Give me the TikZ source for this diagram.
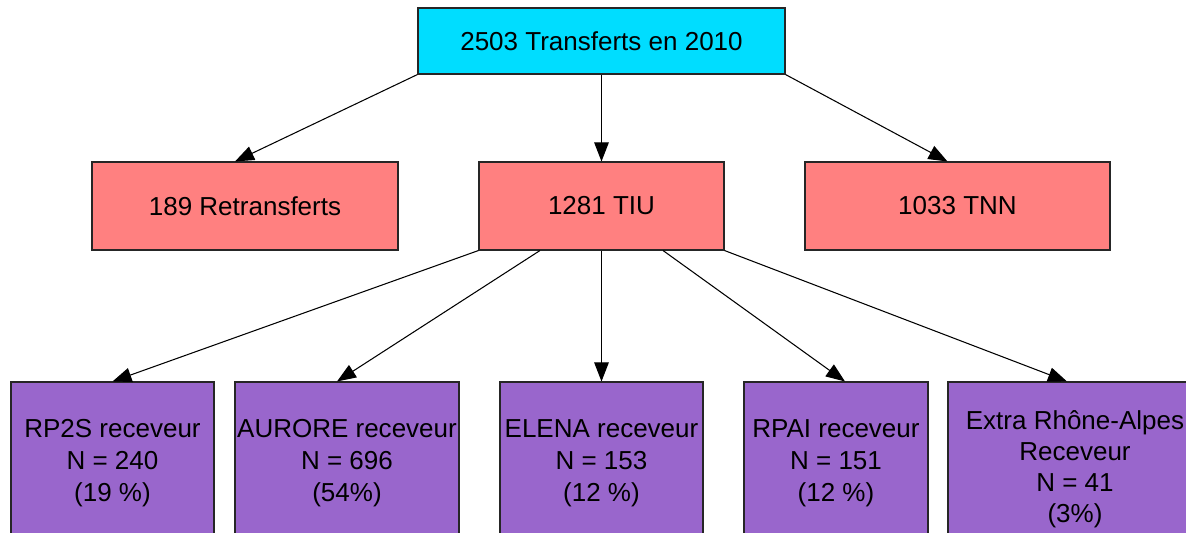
\documentclass[tikz,border=0pt]{standalone}
\usepackage{fontspec}
\setmainfont{Liberation Sans}
\usepackage{xcolor}
\usepackage{tikz}
\usetikzlibrary{arrows.meta, positioning, calc}
\definecolor{topcyan}{RGB}{0,221,255}
\definecolor{salmon}{RGB}{255,128,128}
\definecolor{lilac}{RGB}{153,102,204}
\tikzstyle{box} = [rectangle, text centered, align=center, draw=black!85, line width=0.6pt, font=\fontsize{14.8}{18.3}\selectfont, inner sep=0pt]
\tikzstyle{total} = [box, fill=topcyan, minimum width=7.34cm, minimum height=1.32cm]
\tikzstyle{kind} = [box, fill=salmon, minimum height=1.76cm]
\tikzstyle{receiver} = [box, fill=lilac, minimum height=3.24cm]
\tikzstyle{arrow} = [line width=0.6pt, -{Triangle[length=0.38cm, width=0.29cm]}]

\begin{document}
\begin{tikzpicture}[on grid]
    \useasboundingbox (0,0) rectangle (23.72,-10.66);
    \clip (0,0) rectangle (23.72,-10.66);
    % Top
    \node[total] (all) at (12.03,-0.82) {2503 Transferts en 2010};
    % Middle row
    \node[kind, minimum width=4.9cm, below=3.3cm of all] (tiu) {1281 TIU};
    \node[kind, minimum width=6.12cm, left=7.13cm of tiu] (retrans) {189 Retransferts};
    \node[kind, minimum width=6.1cm, right=7.12cm of tiu] (tnn) {1033 TNN};
    % Bottom row
    \node[receiver, minimum width=4.06cm, below=5.14cm of tiu] (elena) {ELENA receveur\\N = 153\\(12 \%)};
    \node[receiver, minimum width=4.06cm, left=9.78cm of elena] (rpps) {RP2S receveur\\N = 240\\(19 \%)};
    \node[receiver, minimum width=4.48cm, left=5.09cm of elena] (aurore) {AURORE receveur\\N = 696\\(54\%)};
    \node[receiver, minimum width=3.68cm, right=4.69cm of elena] (rpai) {RPAI receveur\\N = 151\\(12 \%)};
    \node[receiver, minimum width=5.08cm, minimum height=3.48cm, below right=0.12cm and 9.47cm of elena, font=\fontsize{14.8}{17.6}\selectfont] (extra) {Extra Rhône-Alpes\\Receveur\\N = 41\\(3\%)};

    % Arrows
    \draw[arrow] (all.south west) -- ([xshift=-0.2cm]retrans.north);
    \draw[arrow] (all.south) -- (tiu.north);
    \draw[arrow] (all.south east) -- ([xshift=-0.2cm]tnn.north);
    \draw[arrow] (tiu.south west) -- (rpps.north);
    \draw[arrow] ($(tiu.south west)!0.25!(tiu.south east)$) -- ([xshift=-0.2cm]aurore.north);
    \draw[arrow] (tiu.south) -- (elena.north);
    \draw[arrow] ($(tiu.south west)!0.75!(tiu.south east)$) -- ([xshift=0.18cm]rpai.north);
    \draw[arrow] (tiu.south east) -- ([xshift=-0.16cm]extra.north);
\end{tikzpicture}
\end{document}
